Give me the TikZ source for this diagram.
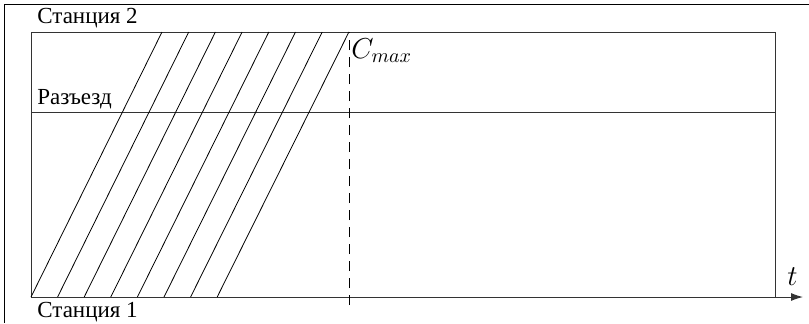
\documentclass[tikz,border=0pt]{standalone}
\usepackage{fontspec}
\newfontfamily\ruserif{Liberation Serif}
\usetikzlibrary{arrows.meta}
\begin{document}
\begin{tikzpicture}[x=0.5pt,y=-0.5pt,
  frame/.style={line width=0.5pt, draw=black!80},
  train/.style={line width=0.4pt},
  lbl/.style={anchor=base west, inner sep=0pt, font=\ruserif\fontsize{11.5}{13}\selectfont},
  mlbl/.style={anchor=base west, inner sep=0pt, font=\Large}]
\useasboundingbox (0,0) rectangle (809,323);
% outer frame (clipped)
\draw[line width=0.5pt] (809,4.5) -- (4,4.5) -- (4,323);
% inner rectangle
\draw[frame] (31,297) -- (31,32) -- (775,32) -- (775,297);
% siding line
\draw[frame] (31,112.5) -- (775,112.5);
% time axis
\draw[frame,-{Latex[length=6pt,width=4pt]}] (31,297) -- (803,297);
% train lines
\foreach \k in {0,...,7}{
  \draw[train] ({31+26.6*\k},297) -- ({162+26.7*\k},32);
}
% Cmax dashed line
\draw[line width=0.5pt, dash pattern=on 5pt off 3.5pt] (349,305) -- (349,32);
% labels
\node[lbl] (st2) at (37,23) {Станция 2};
\node[lbl] (raz) at (37,104.5) {Разъезд};
\node[lbl] (st1) at (37,317) {Станция 1};
\node[mlbl] (cmax) at (351,58) {$C_{max}$};
\node[mlbl] (t) at (787,285) {$t$};
\end{tikzpicture}
\end{document}
